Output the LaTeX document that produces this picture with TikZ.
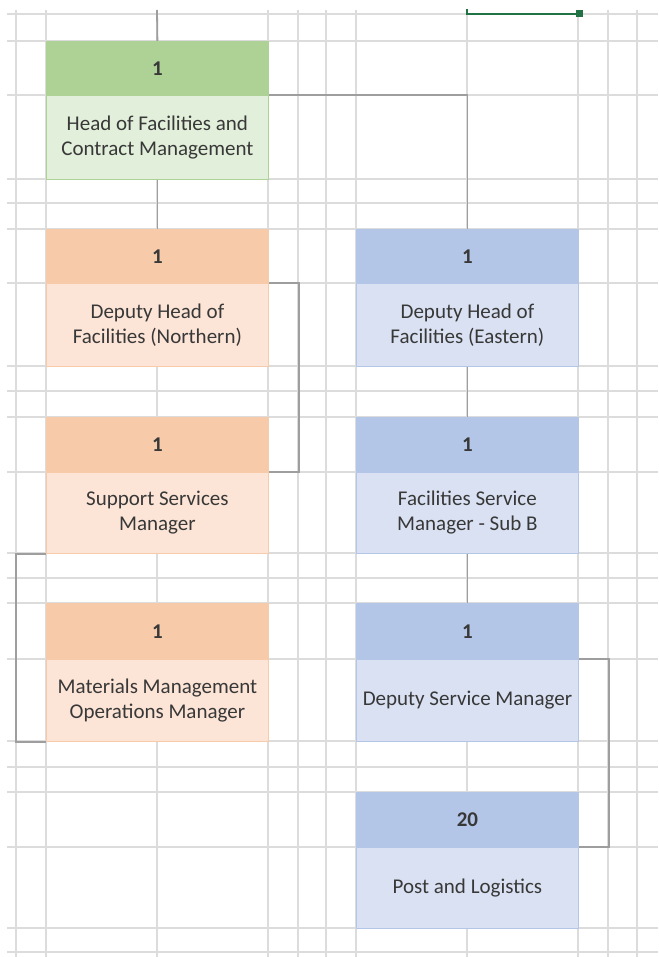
\documentclass[tikz,border=0pt]{standalone}
\usepackage{fontspec}
\setmainfont{Carlito}
\definecolor{gridc}{HTML}{DCDCDC}
\definecolor{connc}{HTML}{9E9E9E}
\definecolor{txtc}{HTML}{383838}
\definecolor{grH}{HTML}{AED295}
\definecolor{grB}{HTML}{E2EFDA}
\definecolor{orH}{HTML}{F7CAAA}
\definecolor{orB}{HTML}{FCE4D6}
\definecolor{blH}{HTML}{B4C6E7}
\definecolor{blB}{HTML}{D9E1F2}
\definecolor{selc}{HTML}{217346}
\tikzset{
  gridline/.style={draw=gridc, line width=1.4pt},
  conn/.style={draw=connc, line width=1.8pt},
  boxpart/.style={anchor=north west, inner sep=0pt, minimum width=222pt, align=center, text=txtc, font=\fontsize{21}{25}\selectfont, line width=0.8pt},
}
\newcommand{\orgbox}[9]{%
  \node[boxpart, fill=#6, draw=#6, minimum height=#4-#3] (#1-h) at (#2,#3) {\textbf{#8}};
  \node[boxpart, fill=#7, draw=#6, minimum height=#5-#4] (#1-b) at (#2,#4) {#9};
}
\begin{document}
\begin{tikzpicture}[x=1pt,y=-1pt]
\useasboundingbox (0,0) rectangle (658,957);
\fill[white] (0,0) rectangle (658,957);
% grid
\foreach \gx in {16,46,157,268,298,326,356,467,578,608,637}
  \draw[gridline] (\gx,10) -- (\gx,957);
\foreach \gy in {14,41,95,179,203,229,283,366,391,417,472,553,578,603,659,741,767,792,847,928,952}
  \draw[gridline] (7,\gy) -- (658,\gy);
% boxes
\orgbox{head}{46}{41}{95}{179}{grH}{grB}{1}{Head of Facilities and\\Contract Management}
\orgbox{north}{46}{229}{283}{366}{orH}{orB}{1}{Deputy Head of\\Facilities (Northern)}
\orgbox{support}{46}{417}{472}{553}{orH}{orB}{1}{Support Services\\Manager}
\orgbox{mat}{46}{603}{659}{741}{orH}{orB}{1}{Materials Management\\Operations Manager}
\orgbox{east}{356}{229}{283}{366}{blH}{blB}{1}{Deputy Head of\\Facilities (Eastern)}
\orgbox{subb}{356}{417}{472}{553}{blH}{blB}{1}{Facilities Service\\Manager - Sub B}
\orgbox{dsm}{356}{603}{659}{741}{blH}{blB}{1}{Deputy Service Manager}
\orgbox{post}{356}{792}{847}{928}{blH}{blB}{20}{Post and Logistics}
% connectors
\coordinate (topin) at (157,10);
\draw[conn] (topin) -- (head-h.north);
\draw[conn] (head-b.south) -- (north-h.north);
\draw[conn] (head-b.north east) -| (east-h.north);
\draw[conn] (north-b.north east) -- ++(30,0) |- (support-b.north east);
\draw[conn] (support-b.south west) -- ++(-30,0) |- (mat-b.south west);
\draw[conn] (east-b.south) -- (subb-h.north);
\draw[conn] (subb-b.south) -- (dsm-h.north);
\draw[conn] (dsm-b.north east) -- ++(30,0) |- (post-b.north east);
% selection marker
\coordinate (sel1) at (467,9);
\coordinate (sel2) at (579,14);
\draw[draw=selc, line width=2.2pt] (sel1) |- (sel2);
\node[fill=selc, minimum size=7pt, inner sep=0pt] (selh) at (sel2) {};
\end{tikzpicture}
\end{document}
